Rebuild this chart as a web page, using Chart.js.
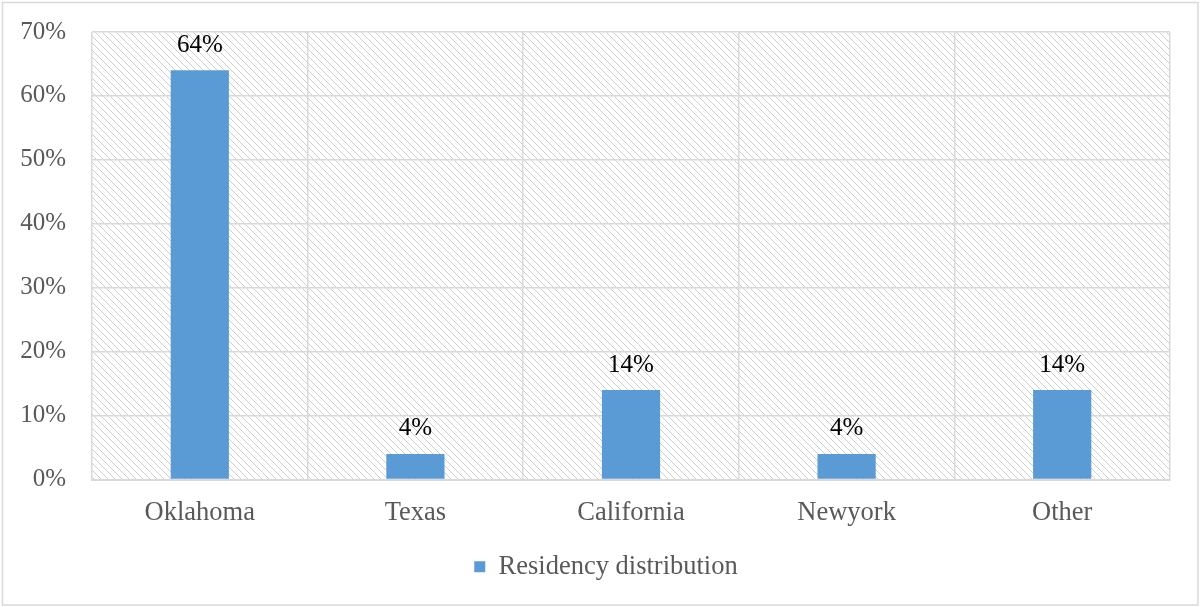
<!DOCTYPE html>
<html>
<head>
<meta charset="utf-8">
<script src="https://cdn.jsdelivr.net/npm/chart.js@4.4.1/dist/chart.umd.min.js"></script>
<style>
  html, body { margin: 0; padding: 0; background: #ffffff; }
  #wrap { width: 1200px; height: 607px; position: relative; }
</style>
</head>
<body>
<div id="wrap"><canvas id="chart" width="1200" height="607"></canvas></div>
<script>
// Residency distribution by state (percent of respondents)
const categories = ['Oklahoma', 'Texas', 'California', 'Newyork', 'Other'];
const residency = [64, 4, 14, 4, 14];
const seriesName = 'Residency distribution';
const yMax = 70;
const yStep = 10;

const FONT = '"Liberation Serif", "Times New Roman", serif';
const BAR = '#5b9bd5';
const GRID = '#d9d9d9';
const TEXT = '#595959';

// Diagonal hatch fill for the plot background
function makeHatch() {
  const n = 7;
  const c = document.createElement('canvas');
  c.width = n; c.height = n;
  const g = c.getContext('2d');
  g.fillStyle = '#ffffff';
  g.fillRect(0, 0, n, n);
  g.fillStyle = '#cecece';
  for (let i = 0; i < n; i++) {
    g.fillRect(i, i, 1, 1);
  }
  return c;
}

const backdrop = {
  id: 'backdrop',
  // nudge the legend a little right of the plot centre
  afterLayout(chart) {
    if (chart.legend) {
      chart.legend.left += 21;
      chart.legend.right += 21;
    }
  },
  beforeDraw(chart) {
    const { ctx, chartArea: a } = chart;
    ctx.save();
    ctx.fillStyle = '#ffffff';
    ctx.fillRect(0, 0, chart.width, chart.height);
    ctx.fillStyle = ctx.createPattern(makeHatch(), 'repeat');
    ctx.fillRect(a.left, a.top, a.right - a.left, a.bottom - a.top);
    ctx.restore();
  },
  afterDraw(chart) {
    const ctx = chart.ctx;
    ctx.save();
    ctx.strokeStyle = GRID;
    ctx.lineWidth = 1.5;
    ctx.strokeRect(2.5, 2.5, chart.width - 4.5, chart.height - 4.5);
    ctx.restore();
  }
};

// Value labels above each bar
const valueLabels = {
  id: 'valueLabels',
  afterDatasetsDraw(chart) {
    const ctx = chart.ctx;
    const meta = chart.getDatasetMeta(0);
    ctx.save();
    ctx.font = '25px ' + FONT;
    ctx.fillStyle = '#000000';
    ctx.textAlign = 'center';
    ctx.textBaseline = 'middle';
    meta.data.forEach((bar, i) => {
      ctx.fillText(residency[i] + '%', bar.x, bar.y - 25);
    });
    ctx.restore();
  }
};

new Chart(document.getElementById('chart'), {
  type: 'bar',
  data: {
    labels: categories,
    datasets: [{
      label: seriesName,
      data: residency,
      backgroundColor: BAR,
      borderWidth: 0,
      categoryPercentage: 1,
      barPercentage: 0.27
    }]
  },
  options: {
    responsive: false,
    animation: false,
    devicePixelRatio: 1,
    layout: { padding: { left: 0, right: 30, top: 32, bottom: 17 } },
    plugins: {
      legend: {
        position: 'bottom',
        labels: {
          font: { family: FONT, size: 26.5 },
          color: TEXT,
          boxWidth: 11,
          boxHeight: 11,
          padding: 10
        }
      },
      tooltip: { enabled: false }
    },
    scales: {
      x: {
        grid: { color: GRID, lineWidth: 1.5, drawTicks: false, offset: true },
        border: { color: GRID, width: 2 },
        ticks: { font: { family: FONT, size: 26.5 }, color: TEXT, padding: 18 },
        afterFit(scale) { scale.height = 64; }
      },
      y: {
        min: 0,
        max: yMax,
        grid: { color: GRID, lineWidth: 1.5, drawTicks: false },
        border: { display: false },
        ticks: {
          stepSize: yStep,
          font: { family: FONT, size: 25 },
          color: TEXT,
          padding: 26,
          callback: v => v + '%'
        },
        afterFit(scale) {
          scale.width = 92;
          scale.paddingTop = 0;
          scale.paddingBottom = 0;
        }
      }
    }
  },
  plugins: [backdrop, valueLabels]
});
</script>
</body>
</html>
